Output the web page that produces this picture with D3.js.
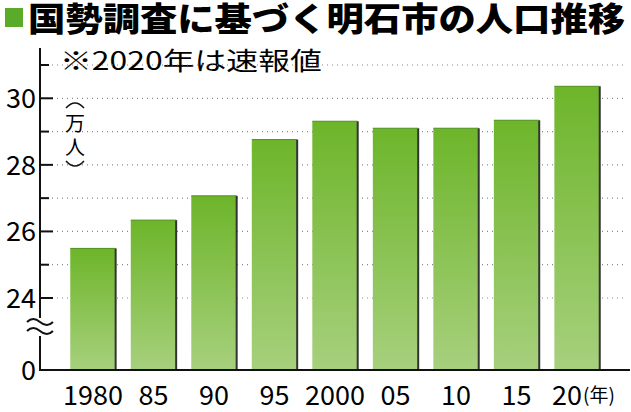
<!DOCTYPE html>
<html><head><meta charset="utf-8">
<script src="https://cdn.jsdelivr.net/npm/d3@7"></script>
<style>body{margin:0;background:#fff}svg{display:block}text{font-family:"Noto Sans CJK JP","Noto Sans",sans-serif}</style>
</head><body>
<script>
const years = ['1980', '85', '90', '95', '2000', '05', '10', '15', '20'];
const population = [25.49, 26.34, 27.07, 28.76, 29.31, 29.10, 29.10, 29.34, 30.36];
const majorTicks = [24, 26, 28, 30];
const minorTicks = [24, 25, 26, 27, 28, 29, 30, 31];

const W = 631, H = 412, base = 370;
const svg = d3.select(document.body).append('svg').attr('width', W).attr('height', H);

const grad = svg.append('defs').append('linearGradient').attr('id', 'g').attr('x1', 0).attr('x2', 0).attr('y1', 0).attr('y2', 1);
grad.append('stop').attr('offset', '0%').attr('stop-color', '#6db52a');
grad.append('stop').attr('offset', '100%').attr('stop-color', '#a7d07d');

const x = d3.scaleBand().domain(years).range([40, 630]).paddingInner(0.25).paddingOuter(0.5);
const y = d3.scaleLinear().domain([24, 31]).range([298, 65]);

// title
svg.append('rect').attr('x', 5).attr('y', 8).attr('width', 18).attr('height', 19).attr('fill', '#5aab2a');
svg.append('text').attr('x', 28).attr('y', 31).attr('font-size', 33).attr('font-weight', 900)
  .attr('textLength', 597).attr('lengthAdjust', 'spacingAndGlyphs').text('国勢調査に基づく明石市の人口推移');
svg.append('text').attr('x', 60).attr('y', 70).attr('font-size', 25).attr('textLength', 262)
  .attr('lengthAdjust', 'spacingAndGlyphs').text('※2020年は速報値');

// grid
svg.selectAll('.grid').data(minorTicks).enter().append('line')
  .attr('x1', 42).attr('x2', 625).attr('y1', d => y(d)).attr('y2', d => y(d))
  .attr('stroke', '#888').attr('stroke-width', 1.2).attr('stroke-dasharray', '1,4');

// bars
svg.selectAll('.bar').data(years).enter().append('rect')
  .attr('x', d => x(d)).attr('width', x.bandwidth())
  .attr('y', (d, i) => y(population[i])).attr('height', (d, i) => base - y(population[i]))
  .attr('fill', 'url(#g)');
svg.selectAll('.edge').data(years).enter().append('line')
  .attr('x1', d => x(d) + x.bandwidth()).attr('x2', d => x(d) + x.bandwidth())
  .attr('y1', (d, i) => y(population[i])).attr('y2', base)
  .attr('stroke', '#333').attr('stroke-width', 2);
svg.selectAll('.top').data(years).enter().append('line')
  .attr('x1', d => x(d)).attr('x2', d => x(d) + x.bandwidth())
  .attr('y1', (d, i) => y(population[i])).attr('y2', (d, i) => y(population[i]))
  .attr('stroke', '#4f8f1e').attr('stroke-width', 1);

// axes
svg.append('line').attr('x1', 40).attr('x2', 40).attr('y1', 48).attr('y2', base).attr('stroke', '#111').attr('stroke-width', 2);
svg.append('line').attr('x1', 39).attr('x2', 630).attr('y1', base).attr('y2', base).attr('stroke', '#111').attr('stroke-width', 2);
svg.selectAll('.tk').data(minorTicks).enter().append('line')
  .attr('x1', 40).attr('x2', d => majorTicks.includes(d) ? 53 : 49)
  .attr('y1', d => y(d)).attr('y2', d => y(d)).attr('stroke', '#111').attr('stroke-width', 2);
svg.selectAll('.tl').data(majorTicks).enter().append('text')
  .attr('x', 36).attr('y', d => y(d) + 10).attr('text-anchor', 'end').attr('font-size', 27)
  .attr('font-family', 'Liberation Sans Narrow, Roboto, sans-serif').text(d => d);
svg.append('text').attr('x', 36).attr('y', base + 10).attr('text-anchor', 'end').attr('font-size', 27)
  .attr('font-family', 'Liberation Sans Narrow, Roboto, sans-serif').text('0');
// break mark
svg.append('rect').attr('x', 26).attr('y', 318).attr('width', 28).attr('height', 18).attr('fill', '#fff');
[322, 331].forEach(yy => svg.append('path').attr('d', `M27,${yy} q6,-6 13,0 t13,0`).attr('fill', 'none').attr('stroke', '#111').attr('stroke-width', 2));
// unit
const unit = svg.append('g').attr('font-size', 20).attr('text-anchor', 'middle');
unit.append('path').attr('d', 'M66,108 q9,-10 18,0').attr('fill', 'none').attr('stroke', '#111').attr('stroke-width', 1.5);
unit.append('text').attr('x', 75).attr('y', 131).text('万');
unit.append('text').attr('x', 75).attr('y', 155).text('人');
unit.append('path').attr('d', 'M66,161 q9,10 18,0').attr('fill', 'none').attr('stroke', '#111').attr('stroke-width', 1.5);

// x labels
svg.selectAll('.xl').data(years).enter().append('text')
  .attr('x', d => x(d) + x.bandwidth() / 2 + (d === '20' ? -10 : 0)).attr('y', 405)
  .attr('text-anchor', 'middle').attr('font-size', 27).attr('font-family', 'Liberation Sans Narrow, Roboto, sans-serif').text(d => d);
svg.append('text').attr('x', 583).attr('y', 402).attr('font-size', 19).text('(年)');
</script>
</body></html>
